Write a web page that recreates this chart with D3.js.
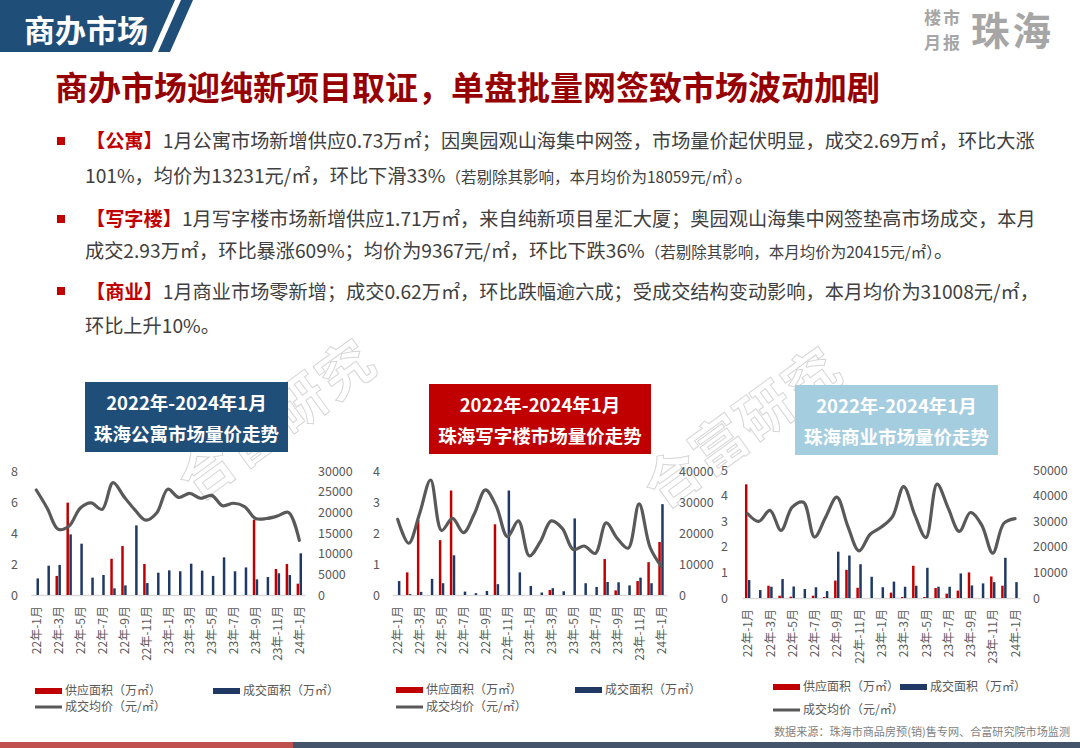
<!DOCTYPE html>
<html>
<head>
<meta charset="utf-8">
<script src="https://cdn.jsdelivr.net/npm/d3@7"></script>
<style>
  body { margin: 0; background: #fff; }
  svg { display: block; font-family: "Noto Sans CJK SC", "Noto Sans", sans-serif; }
</style>
</head>
<body>
<script>
// months on the x axis (every other one is labelled)
var months = ["22年-1月","22年-2月","22年-3月","22年-4月","22年-5月","22年-6月","22年-7月","22年-8月","22年-9月","22年-10月","22年-11月","22年-12月",
  "23年-1月","23年-2月","23年-3月","23年-4月","23年-5月","23年-6月","23年-7月","23年-8月","23年-9月","23年-10月","23年-11月","23年-12月","24年-1月"];
var tickMonths = months.filter(function(d, i) { return i % 2 == 0; });

// 公寓 (万㎡, 元/㎡)
var aptSupply = [0, 0, 1.23, 5.96, 0, 0, 0, 2.34, 3.16, 0, 2.0, 0, 0, 0, 0, 0, 0, 0, 0, 0, 4.86, 0, 1.68, 2.0, 0.73];
var aptDeal = [1.07, 1.89, 1.94, 3.91, 3.31, 1.12, 1.29, 0.43, 0.62, 4.49, 0.77, 1.44, 1.59, 1.53, 2.02, 1.57, 1.23, 2.43, 1.53, 1.78, 1.01, 1.16, 1.40, 1.29, 2.69];
var aptPrice = [25400, 21000, 15900, 16700, 21000, 22300, 20700, 27200, 23800, 20600, 18100, 19900, 25600, 23600, 24600, 23400, 24100, 21600, 22200, 21400, 18500, 18500, 19100, 20000, 13231];

// 写字楼
var offSupply = [0, 0.73, 2.42, 0, 1.77, 3.37, 0, 0, 0, 2.28, 0, 0, 0, 0, 0.16, 0, 0, 0, 0, 1.16, 0.15, 0, 0.45, 1.06, 1.71];
var offDeal = [0.45, 0.03, 0.10, 0.52, 0.38, 1.28, 0.11, 0.06, 0.13, 0.35, 3.37, 0.73, 0.29, 0.08, 0.22, 0.12, 2.47, 0.38, 0.26, 0.42, 0.41, 0.31, 0.56, 0.38, 2.93];
var offPrice = [24400, 16700, 26300, 37100, 20800, 24700, 20100, 26300, 33900, 28500, 18800, 23900, 12600, 17200, 23900, 21500, 14700, 15800, 13400, 23300, 18300, 15100, 29400, 15400, 9367];

// 商业
var retSupply = [4.44, 0, 0.48, 0.09, 0.05, 0, 0.09, 0.04, 0.68, 1.10, 0.40, 0, 0, 0.21, 0.04, 1.26, 0.04, 0.39, 0.17, 0.29, 1.00, 0, 0.84, 0.48, 0];
var retDeal = [0.70, 0.31, 0.44, 0.74, 0.45, 0.35, 0.42, 0.27, 1.81, 1.66, 1.32, 0.83, 0.42, 0.64, 0.44, 0.48, 1.18, 0.44, 0.44, 0.96, 0.49, 0.57, 0.62, 1.57, 0.62];
var retPrice = [32900, 29900, 34200, 26400, 35500, 37400, 23800, 31600, 39400, 27900, 18400, 24900, 27700, 31800, 43500, 32500, 23600, 44500, 35100, 26000, 33400, 28600, 17500, 29200, 31008];

var legendLabels = ["供应面积（万㎡）", "成交面积（万㎡）", "成交均价（元/㎡）"];

var W = 1080, H = 748;
var svg = d3.select("body").append("svg").attr("width", W).attr("height", H);

// watermarks (behind everything)
[[277, 420], [743, 428]].forEach(function(p) {
  svg.append("text")
    .attr("transform", "translate(" + p[0] + "," + p[1] + ") rotate(-36)")
    .attr("text-anchor", "middle")
    .attr("dy", "0.35em")
    .attr("font-size", 55)
    .attr("font-weight", "bold")
    .attr("letter-spacing", 2)
    .attr("fill", "none")
    .attr("stroke", "#d6d6d6")
    .attr("stroke-width", 1)
    .text("合富研究");
});

// header tab
svg.append("polygon").attr("points", "0,0 175,0 152,52 0,52").attr("fill", "#1f4e79");
svg.append("polygon").attr("points", "181,0 193,0 170,52 158,52").attr("fill", "#1f4e79");
svg.append("text").attr("x", 24).attr("y", 42).attr("font-size", 31).attr("font-weight", "bold")
  .attr("fill", "#fff").text("商办市场");

// logo top right
svg.append("text").attr("x", 924).attr("y", 24).attr("font-size", 17).attr("letter-spacing", 2).attr("font-weight", "bold").attr("fill", "#a6a6a6").text("楼市");
svg.append("text").attr("x", 924).attr("y", 49).attr("font-size", 17).attr("letter-spacing", 2).attr("font-weight", "bold").attr("fill", "#a6a6a6").text("月报");
svg.append("text").attr("x", 971).attr("y", 45).attr("font-size", 38.5).attr("letter-spacing", 3).attr("font-weight", "bold").attr("fill", "#a6a6a6").text("珠海");

// main title
svg.append("text").attr("x", 55).attr("y", 100).attr("font-size", 33).attr("font-weight", "bold")
  .attr("fill", "#960000").text("商办市场迎纯新项目取证，单盘批量网签致市场波动加剧");

// bullet paragraphs
var bodyColor = "#404040";
function bulletLine(x, y, parts) {
  var t = svg.append("text").attr("x", x).attr("y", y).attr("font-size", 19.2).attr("fill", bodyColor);
  parts.forEach(function(p) {
    var s = t.append("tspan").text(p[0]);
    if (p[1] == "tag") s.attr("fill", "#c00000").attr("font-weight", "bold");
    if (p[1] == "small") s.attr("font-size", 15.5);
  });
}
[[137], [215], [287]].forEach(function(b) {
  svg.append("rect").attr("x", 57).attr("y", b[0]).attr("width", 8).attr("height", 8).attr("fill", "#c00000");
});
bulletLine(86, 148, [["【公寓】", "tag"], ["1月公寓市场新增供应0.73万㎡；因奥园观山海集中网签，市场量价起伏明显，成交2.69万㎡，环比大涨"]]);
bulletLine(85, 183, [["101%，均价为13231元/㎡，环比下滑33%"], ["（若剔除其影响，本月均价为18059元/㎡）", "small"], ["。"]]);
bulletLine(86, 226, [["【写字楼】", "tag"], ["1月写字楼市场新增供应1.71万㎡，来自纯新项目星汇大厦；奥园观山海集中网签垫高市场成交，本月"]]);
bulletLine(85, 258, [["成交2.93万㎡，环比暴涨609%；均价为9367元/㎡，环比下跌36%"], ["（若剔除其影响，本月均价为20415元/㎡）", "small"], ["。"]]);
bulletLine(86, 299, [["【商业】", "tag"], ["1月商业市场零新增；成交0.62万㎡，环比跌幅逾六成；受成交结构变动影响，本月均价为31008元/㎡，"]]);
bulletLine(85, 333, [["环比上升10%。"]]);

// three charts
var charts = [
  { name: "珠海公寓市场量价走势", color: "#1f4e79", supply: aptSupply, deal: aptDeal, price: aptPrice,
    leftMax: 8, leftStep: 2, rightMax: 30000, rightStep: 5000,
    x0: 30.8, x1: 304.8, yBase: 595, yTop: 471, leftLab: 18, rightLab: 318,
    box: [85, 382, 203, 70], legX: [35, 213], legY: [691, 707] },
  { name: "珠海写字楼市场量价走势", color: "#c00000", supply: offSupply, deal: offDeal, price: offPrice,
    leftMax: 4, leftStep: 1, rightMax: 40000, rightStep: 10000,
    x0: 392.2, x1: 666.5, yBase: 595, yTop: 471, leftLab: 380, rightLab: 679,
    box: [429, 384, 222, 70], legX: [396, 575], legY: [690, 707] },
  { name: "珠海商业市场量价走势", color: "#a4cde0", supply: retSupply, deal: retDeal, price: retPrice,
    leftMax: 5, leftStep: 1, rightMax: 50000, rightStep: 10000,
    x0: 742.1, x1: 1020.6, yBase: 598, yTop: 470, leftLab: 728, rightLab: 1033,
    box: [795, 385, 203, 70], legX: [773, 900], legY: [687, 710] }
];

var axisColor = "#595959";
var intFmt = d3.format("d");

charts.forEach(function(c) {
  var g = svg.append("g");

  // title box
  g.append("rect").attr("x", c.box[0]).attr("y", c.box[1]).attr("width", c.box[2]).attr("height", c.box[3]).attr("fill", c.color);
  g.append("text").attr("x", c.box[0] + c.box[2] / 2).attr("y", c.box[1] + 28).attr("text-anchor", "middle")
    .attr("font-size", 18.5).attr("font-weight", "bold").attr("fill", "#fff").text("2022年-2024年1月");
  g.append("text").attr("x", c.box[0] + c.box[2] / 2).attr("y", c.box[1] + 59).attr("text-anchor", "middle")
    .attr("font-size", 18.5).attr("font-weight", "bold").attr("fill", "#fff").text(c.name);

  var x = d3.scalePoint().domain(months).range([c.x0, c.x1]).padding(0.5);
  var inner = d3.scaleBand().domain(["supply", "deal"]).range([-2.7, 2.7]).paddingInner(0.15);
  var yL = d3.scaleLinear().domain([0, c.leftMax]).range([c.yBase, c.yTop]);
  var yR = d3.scaleLinear().domain([0, c.rightMax]).range([c.yBase, c.yTop]);

  // left axis
  var la = g.append("g").attr("transform", "translate(" + c.leftLab + ",0)")
    .call(d3.axisLeft(yL).tickValues(d3.range(0, c.leftMax + c.leftStep / 2, c.leftStep)).tickFormat(intFmt).tickSize(0).tickPadding(0));
  la.select(".domain").remove();
  la.selectAll("text").attr("font-size", 12.5).attr("fill", axisColor).attr("font-family", "Noto Sans CJK SC");

  // right axis
  var ra = g.append("g").attr("transform", "translate(" + c.rightLab + ",0)")
    .call(d3.axisRight(yR).tickValues(d3.range(0, c.rightMax + c.rightStep / 2, c.rightStep)).tickFormat(intFmt).tickSize(0).tickPadding(0));
  ra.select(".domain").remove();
  ra.selectAll("text").attr("font-size", 12.5).attr("fill", axisColor).attr("font-family", "Noto Sans CJK SC");

  // x axis with rotated month labels
  var xa = g.append("g").attr("transform", "translate(0," + c.yBase + ")")
    .call(d3.axisBottom(x).tickValues(tickMonths).tickSize(0).tickSizeOuter(0));
  xa.select(".domain").attr("stroke", "#d9d9d9").attr("stroke-width", 1.5);
  xa.selectAll("text")
    .attr("font-size", 12).attr("fill", axisColor).attr("font-family", "Noto Sans CJK SC")
    .attr("transform", "rotate(-90)")
    .attr("x", -11).attr("y", 0).attr("dy", "0.35em")
    .style("text-anchor", "end");

  // bars
  var rows = months.map(function(m, i) { return { m: m, supply: c.supply[i], deal: c.deal[i] }; });
  g.append("g").selectAll("rect.sup").data(rows).enter().append("rect")
    .attr("x", function(d) { return x(d.m) + inner("supply"); })
    .attr("width", inner.bandwidth())
    .attr("y", function(d) { return yL(d.supply); })
    .attr("height", function(d) { return yL(0) - yL(d.supply); })
    .attr("fill", "#c00000");
  g.append("g").selectAll("rect.deal").data(rows).enter().append("rect")
    .attr("x", function(d) { return x(d.m) + inner("deal"); })
    .attr("width", inner.bandwidth())
    .attr("y", function(d) { return yL(d.deal); })
    .attr("height", function(d) { return yL(0) - yL(d.deal); })
    .attr("fill", "#1f3864");

  // price line
  var line = d3.line()
    .x(function(d, i) { return x(months[i]); })
    .y(function(d) { return yR(d); })
    .curve(d3.curveCatmullRom.alpha(0.5));
  g.append("path").datum(c.price).attr("d", line)
    .attr("fill", "none").attr("stroke", "#595959").attr("stroke-width", 3.2).attr("stroke-linecap", "round");

  // legend
  g.append("rect").attr("x", c.legX[0]).attr("y", c.legY[0] - 3).attr("width", 27).attr("height", 6).attr("fill", "#c00000");
  g.append("text").attr("x", c.legX[0] + 30).attr("y", c.legY[0]).attr("dy", "0.35em").attr("font-size", 12).attr("fill", axisColor).text(legendLabels[0]);
  g.append("rect").attr("x", c.legX[1]).attr("y", c.legY[0] - 3).attr("width", 27).attr("height", 6).attr("fill", "#1f3864");
  g.append("text").attr("x", c.legX[1] + 30).attr("y", c.legY[0]).attr("dy", "0.35em").attr("font-size", 12).attr("fill", axisColor).text(legendLabels[1]);
  g.append("line").attr("x1", c.legX[0]).attr("x2", c.legX[0] + 27).attr("y1", c.legY[1]).attr("y2", c.legY[1])
    .attr("stroke", "#595959").attr("stroke-width", 3);
  g.append("text").attr("x", c.legX[0] + 30).attr("y", c.legY[1]).attr("dy", "0.35em").attr("font-size", 12).attr("fill", axisColor).text(legendLabels[2]);
});

// source note
svg.append("text").attr("x", 774).attr("y", 736).attr("font-size", 11).attr("fill", "#7f7f7f")
  .attr("textLength", 296).attr("lengthAdjust", "spacingAndGlyphs")
  .text("数据来源：珠海市商品房预(销)售专网、合富研究院市场监测");

// bottom strip
svg.append("rect").attr("x", 0).attr("y", 742).attr("width", 293).attr("height", 6).attr("fill", "#c0504d");
svg.append("rect").attr("x", 293).attr("y", 742).attr("width", W - 293).attr("height", 6).attr("fill", "#44546a");
</script>
</body>
</html>
